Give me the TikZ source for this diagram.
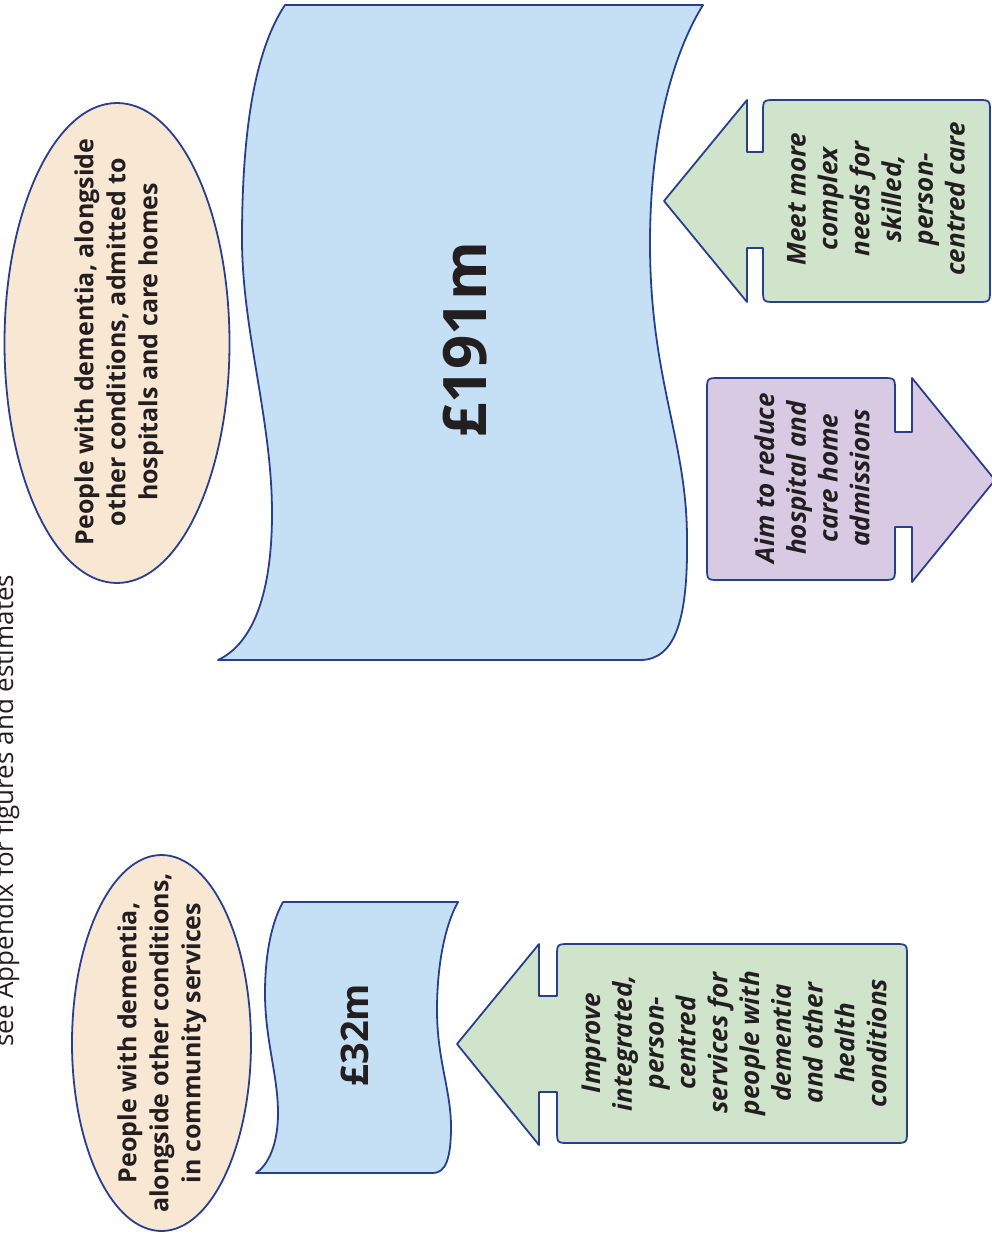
\documentclass[tikz,border=0pt]{standalone}
\usepackage{fontspec}
\setmainfont{Open Sans}
\usetikzlibrary{shapes.geometric}
\definecolor{edge}{RGB}{40,62,142}
\definecolor{blueF}{RGB}{197,224,244}
\definecolor{beigeF}{RGB}{247,231,211}
\definecolor{greenF}{RGB}{207,228,203}
\definecolor{purpF}{RGB}{217,202,228}
\definecolor{ink}{RGB}{35,31,32}
\begin{document}
\begin{tikzpicture}[x=1pt,y=-1pt,
  outline/.style={draw=edge,line width=1.8pt,line join=round},
  wave/.style={outline,fill=blueF},
  ell/.style={ellipse,outline,fill=beigeF,inner sep=0pt},
  ellt/.style={rotate=90,align=center,text=ink,inner sep=0pt,font=\fontsize{25}{32}\selectfont\bfseries},
  arrt/.style={rotate=90,align=center,text=ink,inner sep=0pt,font=\fontsize{26}{31.8}\selectfont\bfseries\itshape},
  amount/.style={rotate=90,text=ink,inner sep=0pt}]
\useasboundingbox (0,0) rectangle (992,1237);

% side note
\node[anchor=base west,rotate=90,inner sep=0pt,text=ink,font=\fontsize{26}{30}\selectfont] (note) at (13,1047) {see Appendix for figures and estimates};

% ellipses
\node[ell,minimum width=225pt,minimum height=480pt] (e1) at (117,343) {};
\node[ellt] (e1t) at (119,342) {People with dementia, alongside\\other conditions, admitted to\\hospitals and care homes};
\node[ell,minimum width=179pt,minimum height=376pt] (e2) at (161.5,1043) {};
\node[ellt] (e2t) at (162,1043) {People with dementia,\\alongside other conditions,\\in community services};

% big wave
\draw[wave] (285,5) -- (703,5)
  .. controls (675,50) and (650,130) .. (650,243)
  .. controls (650,380) and (687,440) .. (687,539)
  .. controls (688,620) and (675,660) .. (640,660)
  -- (218,660)
  .. controls (250,645) and (272,600) .. (272,513)
  .. controls (272,420) and (242,330) .. (242,239)
  .. controls (242,130) and (255,50) .. (285,5) -- cycle;
\node[amount,font=\fontsize{60}{60}\selectfont\bfseries] (big) at (465,340) {£191m};

% small wave
\draw[wave] (283,902) -- (458,902)
  .. controls (445,925) and (437,965) .. (437,1010)
  .. controls (437,1060) and (451,1090) .. (451,1127)
  .. controls (451,1160) and (445,1173) .. (433,1173)
  -- (256,1173)
  .. controls (268,1165) and (278,1145) .. (278,1113)
  .. controls (278,1075) and (265,1040) .. (265,993)
  .. controls (265,960) and (270,925) .. (283,902) -- cycle;
\node[amount,font=\fontsize{38}{38}\selectfont\bfseries] (small) at (355,1035) {£32m};

% purple arrow (right)
\draw[outline,fill=purpF] (895,432) -- (912,432) -- (912,378) -- (995,480) -- (912,582) -- (912,527) -- (895,527)
  -- (895,567) .. controls (895,580) .. (882,580) -- (720,580) .. controls (707,580) .. (707,567)
  -- (707,391) .. controls (707,378) .. (720,378) -- (882,378) .. controls (895,378) .. (895,391) -- cycle;
\node[arrt] (pa) at (812,478) {Aim to reduce\\hospital and\\care home\\admissions};

% green arrow top (left)
\draw[outline,fill=greenF] (763,152) -- (747,152) -- (747,100) -- (664,201) -- (747,302) -- (747,248) -- (763,248)
  -- (763,289) .. controls (763,302) .. (776,302) -- (977,302) .. controls (990,302) .. (990,289)
  -- (990,113) .. controls (990,100) .. (977,100) -- (776,100) .. controls (763,100) .. (763,113) -- cycle;
\node[arrt] (ga) at (876,199) {Meet more\\complex\\needs for\\skilled,\\person-\\centred care};

% green arrow bottom (left)
\draw[outline,fill=greenF] (557,996) -- (539,996) -- (539,944) -- (457,1044) -- (539,1145) -- (539,1092) -- (557,1092)
  -- (557,1130) .. controls (557,1143) .. (570,1143) -- (894,1143) .. controls (907,1143) .. (907,1130)
  -- (907,957) .. controls (907,944) .. (894,944) -- (570,944) .. controls (557,944) .. (557,957) -- cycle;
\node[arrt] (gb) at (734,1043) {Improve\\integrated,\\person-\\centred\\services for\\people with\\dementia\\and other\\health\\conditions};
\end{tikzpicture}
\end{document}
